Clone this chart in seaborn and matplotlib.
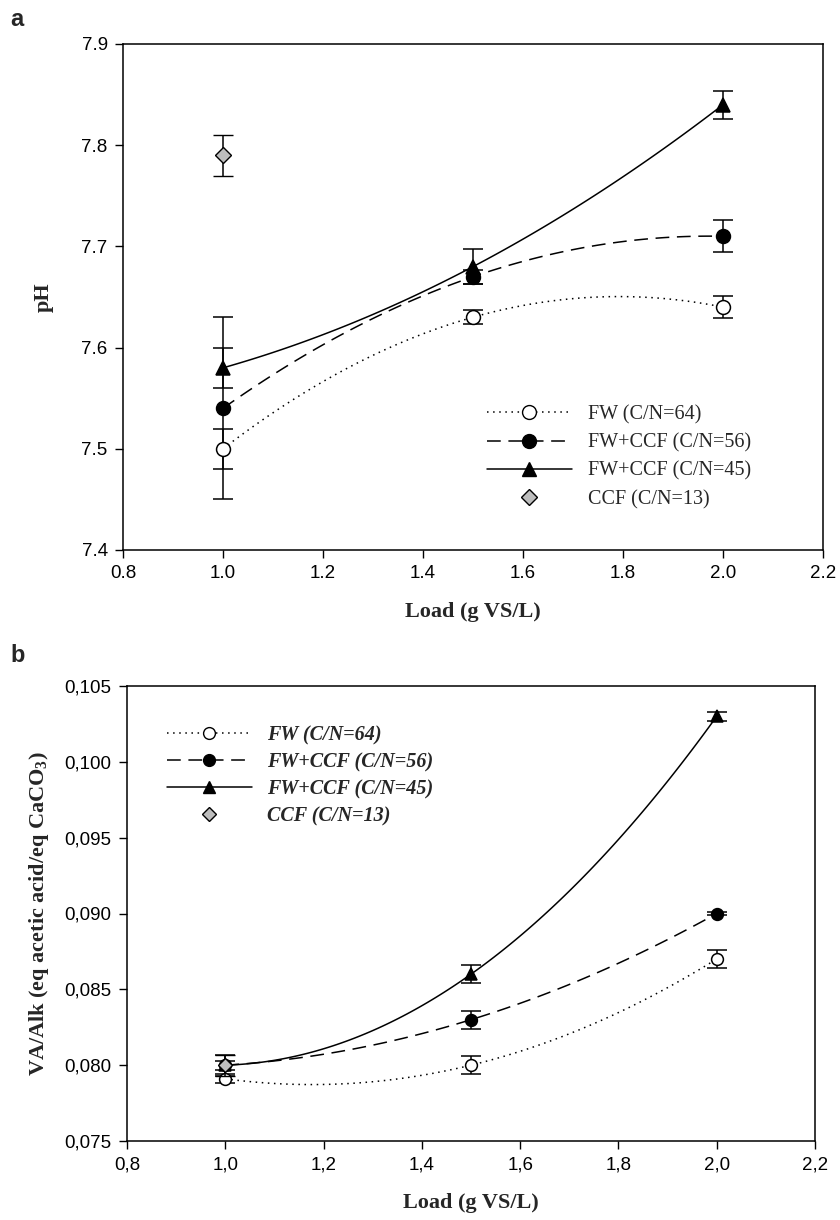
import numpy as np
import pandas as pd
import matplotlib
matplotlib.use("Agg")
import matplotlib.pyplot as plt
from matplotlib.lines import Line2D
import seaborn as sns

# ---------------- data ----------------
load = [1.0, 1.5, 2.0]
series_names = ["FW (C/N=64)", "FW+CCF (C/N=56)", "FW+CCF (C/N=45)", "CCF (C/N=13)"]

# panel a : pH
ph_fw = [7.50, 7.63, 7.64]
ph_fw_err = [0.02, 0.007, 0.011]
ph_56 = [7.54, 7.67, 7.71]
ph_56_err = [0.09, 0.007, 0.016]
ph_45 = [7.58, 7.68, 7.84]
ph_45_err = [0.02, 0.017, 0.014]
ph_ccf = [7.79]
ph_ccf_err = [0.02]

# panel b : VA/Alk
va_fw = [0.0791, 0.0800, 0.0870]
va_fw_err = [0.0003, 0.0006, 0.0006]
va_56 = [0.0800, 0.0830, 0.0900]
va_56_err = [0.0003, 0.0006, 0.0001]
va_45 = [0.0800, 0.0860, 0.1030]
va_45_err = [0.0007, 0.0006, 0.0003]
va_ccf = [0.0800]
va_ccf_err = [0.0007]

xticks = [0.8, 1.0, 1.2, 1.4, 1.6, 1.8, 2.0, 2.2]
yticks_a = [7.4, 7.5, 7.6, 7.7, 7.8, 7.9]
yticks_b = [0.075, 0.080, 0.085, 0.090, 0.095, 0.100, 0.105]

# ---------------- style ----------------
sns.set_theme(style="ticks")
plt.rcParams["font.family"] = ["Liberation Sans", "DejaVu Sans"]
plt.rcParams["mathtext.fontset"] = "custom"
plt.rcParams["mathtext.rm"] = "Liberation Serif:bold"
plt.rcParams["mathtext.it"] = "Liberation Serif:bold"
plt.rcParams["mathtext.bf"] = "Liberation Serif:bold"

fig = plt.figure(figsize=(8.4, 12.2), dpi=100)
ax1 = fig.add_axes([123/840, 1-550/1220, 700/840, 506/1220])
ax2 = fig.add_axes([127/840, 1-1141/1220, 688/840, 455/1220])

styles = [
    dict(ls=(0, (1, 3)), marker="o", mfc="white", mec="black"),
    dict(ls=(0, (9, 5)), marker="o", mfc="black", mec="black"),
    dict(ls="-", marker="^", mfc="black", mec="black"),
]


def smooth(xs, ys):
    c = np.polyfit(xs, ys, 2)
    xx = np.linspace(min(xs), max(xs), 120)
    return pd.DataFrame({"x": xx, "y": np.polyval(c, xx)})


def draw(ax, ys_list, errs_list, ccf, ccf_err, ms, lw):
    for ys, errs, st in zip(ys_list, errs_list, styles):
        df = smooth(load, ys)
        sns.lineplot(data=df, x="x", y="y", ax=ax, color="black",
                     lw=lw, zorder=2, legend=False)
        ax.lines[-1].set_linestyle(st["ls"])
        ax.errorbar(load, ys, yerr=errs, fmt=st["marker"], ms=ms,
                    mfc=st["mfc"], mec=st["mec"], mew=1.1, ecolor="black",
                    elinewidth=1.1, capsize=7, capthick=1.1, zorder=3)
    ax.errorbar(load[:1], ccf, yerr=ccf_err, fmt="D", ms=ms*0.8,
                mfc="#bdbdbd", mec="black", mew=1.0, ecolor="black",
                elinewidth=1.1, capsize=7, capthick=1.1, zorder=4)


draw(ax1, [ph_fw, ph_56, ph_45], [ph_fw_err, ph_56_err, ph_45_err],
     ph_ccf, ph_ccf_err, ms=10, lw=1.1)
draw(ax2, [va_fw, va_56, va_45], [va_fw_err, va_56_err, va_45_err],
     va_ccf, va_ccf_err, ms=8.5, lw=1.1)

for ax in (ax1, ax2):
    ax.set_xlim(0.8, 2.2)
    ax.set_xticks(xticks)
    for s in ax.spines.values():
        s.set_color("black")
        s.set_linewidth(1.1)
    ax.tick_params(direction="out", length=6, width=1.0, colors="black",
                   labelsize=13.5, pad=5)
    ax.set_xlabel("Load (g VS/L)", fontfamily="Liberation Serif",
                  fontweight="bold", fontsize=16, labelpad=14)

ax1.set_ylim(7.4, 7.9)
ax1.set_yticks(yticks_a)
ax1.set_xticklabels([f"{v:.1f}" for v in xticks])
ax1.set_yticklabels([f"{v:.1f}" for v in yticks_a])
ax1.set_ylabel("pH", fontfamily="Liberation Serif", fontweight="bold",
               fontsize=16, labelpad=20)

ax2.set_ylim(0.075, 0.105)
ax2.set_yticks(yticks_b)
ax2.set_xticklabels([f"{v:.1f}".replace(".", ",") for v in xticks])
ax2.set_yticklabels([f"{v:.3f}".replace(".", ",") for v in yticks_b])
ax2.set_ylabel("VA/Alk (eq acetic acid/eq CaCO$_3$)",
               fontfamily="Liberation Serif", fontweight="bold",
               fontsize=16, labelpad=10)


def mk_handles(ms):
    h = []
    for st in styles:
        h.append(Line2D([], [], color="black", lw=1.1, ls=st["ls"],
                        marker=st["marker"], ms=ms, mfc=st["mfc"],
                        mec=st["mec"]))
    h.append(Line2D([], [], color="black", lw=0, marker="D", ms=ms*0.8,
                    mfc="#bdbdbd", mec="black"))
    return h


ax1.legend(mk_handles(10), series_names, loc="upper left",
           bbox_to_anchor=((487-123)/700, (550-405)/506),
           frameon=False, borderpad=0, borderaxespad=0,
           handlelength=4.2, handletextpad=0.8, labelspacing=0.45,
           numpoints=1,
           prop=dict(family="Liberation Serif", size=14.5))

ax2.legend(mk_handles(8.5), series_names, loc="upper left",
           bbox_to_anchor=((167-127)/688, (1141-725)/455),
           frameon=False, borderpad=0, borderaxespad=0,
           handlelength=4.2, handletextpad=0.75, labelspacing=0.35,
           numpoints=1,
           prop=dict(family="Liberation Serif", size=14.5,
                     weight="bold", style="italic"))

fig.text(10/840, 1-20/1220, "a", fontsize=17, fontweight="bold",
         ha="left", va="center", family="Liberation Sans")
fig.text(10/840, 1-655/1220, "b", fontsize=17, fontweight="bold",
         ha="left", va="center", family="Liberation Sans")

fig.savefig("out.png", dpi=100, facecolor="white")
